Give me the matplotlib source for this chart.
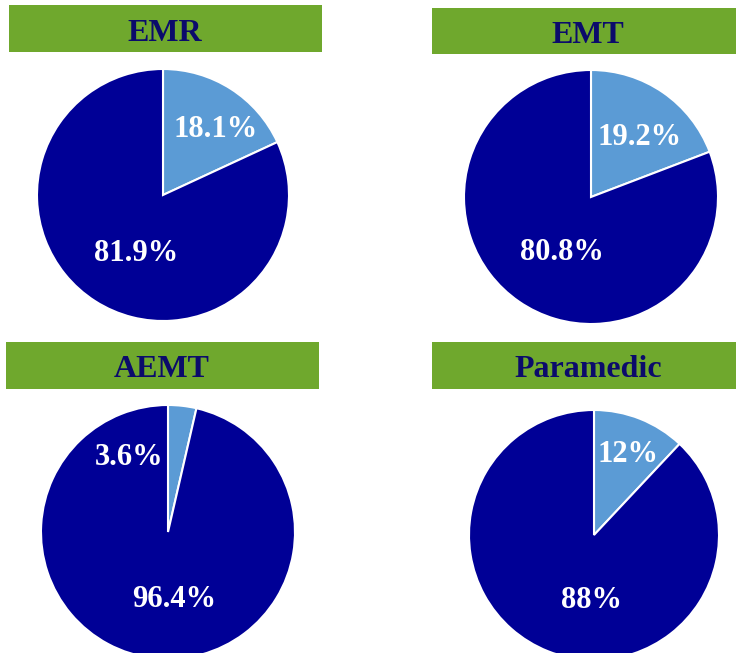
import matplotlib
matplotlib.use("Agg")
import matplotlib.pyplot as plt
from matplotlib.patches import Rectangle

# data
TITLES = ["EMR", "EMT", "AEMT", "Paramedic"]
SMALL_PCT = [18.1, 19.2, 3.6, 12.0]
LARGE_PCT = [81.9, 80.8, 96.4, 88.0]
SMALL_LABELS = ["18.1%", "19.2%", "3.6%", "12%"]
LARGE_LABELS = ["81.9%", "80.8%", "96.4%", "88%"]

LIGHT = "#5B9BD5"
DARK = "#000096"
GREEN = "#6FA82D"
NAVY = "#0B0B6B"

W, H = 736, 653

# layout in pixels (from top-left): pie center x, center y, radius
PIE_POS = [(163, 195, 126), (591, 197, 127), (168, 532, 127), (594, 535, 125)]
# title box: x0, y0, x1, y1, text center x, text baseline y
BOX_POS = [(9, 5, 322, 52, 165, 41), (432, 8, 736, 54, 588, 43),
           (6, 342, 319, 389, 162, 377), (432, 342, 736, 389, 588, 377)]
# label anchor (center x, baseline y) in units of radius: small slice, large slice
LABEL_OFF = [((0.42, 0.46), (-0.21, -0.52)),
             ((0.38, 0.41), (-0.23, -0.50)),
             ((-0.31, 0.53), (0.05, -0.59)),
             ((0.27, 0.58), (-0.02, -0.58))]

plt.rcParams["font.family"] = ["Liberation Serif", "DejaVu Serif"]

fig = plt.figure(figsize=(W / 100, H / 100), dpi=100)
fig.patch.set_facecolor("white")

for i, title in enumerate(TITLES):
    x0, y0, x1, y1, tx, ty = BOX_POS[i]
    fig.patches.append(Rectangle((x0 / W, 1 - y1 / H), (x1 - x0) / W, (y1 - y0) / H,
                                 transform=fig.transFigure, facecolor=GREEN,
                                 edgecolor="none", zorder=0))
    fig.text(tx / W, 1 - ty / H, title, ha="center", va="baseline",
             fontsize=23, fontweight="bold", color=NAVY)

    cx, cy, r = PIE_POS[i]
    ax = fig.add_axes([(cx - r) / W, 1 - (cy + r) / H, 2 * r / W, 2 * r / H])
    ax.pie([SMALL_PCT[i], LARGE_PCT[i]], colors=[LIGHT, DARK], startangle=90,
           counterclock=False, radius=1,
           wedgeprops=dict(edgecolor="white", linewidth=1.5))
    ax.set_xlim(-1, 1)
    ax.set_ylim(-1, 1)
    ax.set_aspect("equal")
    ax.axis("off")

    (sx, sy), (lx, ly) = LABEL_OFF[i]
    ax.text(sx, sy, SMALL_LABELS[i], ha="center", va="baseline", fontsize=22,
            fontweight="bold", color="white")
    ax.text(lx, ly, LARGE_LABELS[i], ha="center", va="baseline", fontsize=22,
            fontweight="bold", color="white")

plt.savefig("out.png", dpi=100)
plt.close()
